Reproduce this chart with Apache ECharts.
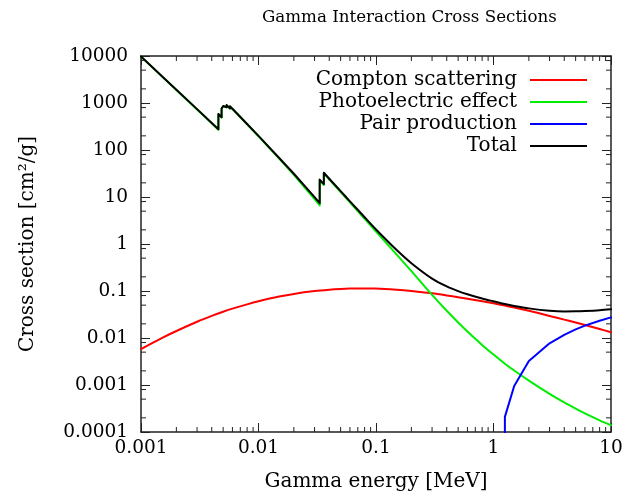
<!DOCTYPE html>
<html>
<head>
<meta charset="utf-8">
<title>Gamma Interaction Cross Sections</title>
<script src="https://cdn.jsdelivr.net/npm/echarts@6/dist/echarts.min.js"></script>
<style>
  html, body { margin: 0; padding: 0; background: #fff; }
  #chart { width: 625px; height: 495px; }
</style>
</head>
<body>
<div id="chart"></div>
<script>
// Energy grid (MeV) for the smooth Compton curve
const comptonEnergy = [0.001, 0.0015, 0.002, 0.003, 0.004, 0.005, 0.006, 0.008, 0.01, 0.015, 0.02, 0.03,
  0.04, 0.05, 0.06, 0.08, 0.1, 0.15, 0.2, 0.3, 0.4, 0.5, 0.6, 0.8, 1, 1.25, 1.5, 2, 3, 4, 5, 6, 8, 10];
// Compton (incoherent) scattering cross section, cm^2/g
const comptonValue = [0.0058, 0.00993, 0.0141, 0.0222, 0.0296, 0.0362, 0.0421, 0.0520, 0.0603, 0.0760, 0.0868, 0.0997,
  0.1066, 0.1105, 0.1125, 0.1136, 0.1129, 0.1063, 0.0998, 0.0891, 0.0805, 0.0738, 0.0685, 0.0605, 0.0547, 0.0489,
  0.0446, 0.0379, 0.0295, 0.0246, 0.0213, 0.0189, 0.0155, 0.0133];

// Energy grid (MeV) with absorption edges repeated (below / above the edge)
const edgeEnergy = [0.001, 0.0015, 0.002, 0.003, 0.004,
  0.004557, 0.004557, 0.004852, 0.004852, 0.005012, 0.005012, 0.005188, 0.005188,
  0.005359, 0.005359, 0.005714, 0.005714, 0.006, 0.008, 0.01, 0.015, 0.02, 0.03,
  0.03317, 0.03317, 0.03598, 0.03598, 0.04, 0.05, 0.06, 0.08, 0.1, 0.15, 0.2, 0.3,
  0.4, 0.5, 0.6, 0.8, 1, 1.25, 1.5, 2, 3, 4, 5, 6, 8, 10];
// Photoelectric absorption, cm^2/g
const photoValue = [9700, 3730, 1900, 728, 369,
  270, 578, 492, 755, 696, 855, 782, 875,
  806, 895, 760, 845, 745, 352, 196, 65.5, 29.6, 9.0,
  6.6, 22.6, 18.0, 32.0, 23.8, 12.8, 7.70, 3.44, 1.84, 0.593, 0.265, 0.0828,
  0.0379, 0.0214, 0.01374, 0.00711, 0.00444, 0.00284, 0.00203, 0.00124, 0.000648, 0.000426,
  0.000315, 0.000249, 0.000177, 0.000139];
// Total attenuation, cm^2/g
const totalValue = [9760, 3760, 1920, 740, 377,
  277, 585, 499, 762, 703, 862, 789, 882,
  813, 902, 767, 852, 752, 358, 200, 67.6, 31.2, 9.9,
  7.4, 23.5, 18.8, 32.8, 24.46, 13.3, 8.09, 3.71, 2.04, 0.744, 0.391, 0.184,
  0.1254, 0.0997, 0.0852, 0.0694, 0.0603, 0.0527, 0.0481, 0.0427, 0.0380, 0.0367,
  0.0369, 0.0375, 0.0390, 0.0409];

// Pair production (threshold region starts below the axis)
const pairEnergy = [1.25, 1.25, 1.5, 2, 3, 4, 5, 6, 8, 10];
const pairValue = [0.00001, 0.00021, 0.00095, 0.00325, 0.0077, 0.0117, 0.0153, 0.0183, 0.0233, 0.0275];

const seriesNames = ['Compton scattering', 'Photoelectric effect', 'Pair production', 'Total'];
const seriesColors = ['#ff0000', '#00ee00', '#0000ff', '#000000'];

const xTickLabels = ['0.001', '0.01', '0.1', '1', '10'];
const yTickLabels = ['0.0001', '0.001', '0.01', '0.1', '1', '10', '100', '1000', '10000'];
// Minor tick multipliers inside each decade
const xMinorSteps = [2, 3, 4, 5, 6, 7, 8, 9];
const yMinorSteps = [2, 5, 8];

const X_MIN = 0.001, X_MAX = 10, Y_MIN = 0.0001, Y_MAX = 10000;
// Above this energy the edge-free curves are drawn with smoothing
const SMOOTH_FROM = 0.04;
const FONT = 'DejaVu Serif';
const FRAME = '#222';

function pairs(xs, ys) { return xs.map((x, i) => [x, ys[i]]); }
function below(xs, ys, e) { return pairs(xs, ys).filter(p => p[0] <= e); }
function above(xs, ys, e) { return pairs(xs, ys).filter(p => p[0] >= e); }

function minorTicks(minExp, maxExp, steps) {
  const out = [];
  for (let e = minExp; e < maxExp; e++) {
    for (const m of steps) out.push(+(m * Math.pow(10, e)).toPrecision(3));
  }
  return out;
}
const xMinor = minorTicks(-3, 1, xMinorSteps);
const yMinor = minorTicks(-4, 4, yMinorSteps);

function tickLabel(labels, minExp) {
  return v => labels[Math.round(Math.log10(v)) - minExp] || '';
}

const chart = echarts.init(document.getElementById('chart'), null, { renderer: 'canvas' });

const lineSeries = (idx, data, smooth) => ({
  name: seriesNames[idx], type: 'line', data, showSymbol: false, symbol: 'none', clip: true,
  smooth: smooth || false,
  lineStyle: { color: seriesColors[idx], width: 2, cap: 'round', join: 'round' },
  itemStyle: { color: seriesColors[idx] },
  emphasis: { disabled: true }, animation: false, z: 3 + idx
});

const baseAxis = {
  type: 'log', logBase: 10,
  axisLine: { show: true, onZero: false, lineStyle: { color: FRAME, width: 1.5 } },
  axisTick: { show: true, inside: true, length: 9, lineStyle: { color: FRAME, width: 1 } },
  minorTick: { show: false },
  splitLine: { show: false },
  minorSplitLine: { show: false }
};

chart.setOption({
  backgroundColor: '#fff',
  animation: false,
  title: {
    text: 'Gamma Interaction Cross Sections',
    left: 262, top: 9, padding: 0,
    textStyle: { fontFamily: FONT, fontSize: 16.7, fontWeight: 'normal', color: '#000' }
  },
  legend: {
    orient: 'vertical', align: 'right', right: 38, top: 69, padding: 0,
    itemWidth: 57, itemHeight: 2, itemGap: 0,
    selectedMode: false,
    data: seriesNames.map(n => ({ name: n, icon: 'rect' })),
    textStyle: { fontFamily: FONT, fontSize: 20, color: '#000', lineHeight: 22, padding: [0, 8, 0, 0] }
  },
  grid: { left: 141, right: 14, top: 56, bottom: 63, containLabel: false, outerBoundsMode: 'none' },
  xAxis: [
    Object.assign({}, baseAxis, {
      position: 'bottom', min: X_MIN, max: X_MAX, splitNumber: 4,
      axisLabel: { show: true, margin: 7, fontFamily: FONT, fontSize: 18.5, color: '#000',
        formatter: tickLabel(xTickLabels, -3), showMinLabel: true, showMaxLabel: true },
      name: 'Gamma energy [MeV]', nameLocation: 'middle', nameGap: 40,
      nameTextStyle: { fontFamily: FONT, fontSize: 20, color: '#000' }
    }),
    Object.assign({}, baseAxis, {
      position: 'top', min: X_MIN, max: X_MAX, splitNumber: 4,
      axisLabel: { show: false }
    })
  ],
  yAxis: [
    Object.assign({}, baseAxis, {
      position: 'left', min: Y_MIN, max: Y_MAX, splitNumber: 8,
      axisLabel: { show: true, margin: 13, fontFamily: FONT, fontSize: 18.5, color: '#000',
        formatter: tickLabel(yTickLabels, -4), showMinLabel: true, showMaxLabel: true },
      name: 'Cross section [cm²/g]', nameLocation: 'middle', nameGap: 103, nameRotate: 90,
      nameTextStyle: { fontFamily: FONT, fontSize: 20, color: '#000' }
    }),
    Object.assign({}, baseAxis, {
      position: 'right', min: Y_MIN, max: Y_MAX, splitNumber: 8,
      axisLabel: { show: false }
    })
  ],
  series: [
    lineSeries(0, pairs(comptonEnergy, comptonValue), 0.3),
    lineSeries(1, below(edgeEnergy, photoValue, SMOOTH_FROM)),
    lineSeries(1, above(edgeEnergy, photoValue, SMOOTH_FROM), 0.3),
    lineSeries(2, pairs(pairEnergy, pairValue)),
    lineSeries(3, below(edgeEnergy, totalValue, SMOOTH_FROM)),
    lineSeries(3, above(edgeEnergy, totalValue, SMOOTH_FROM), 0.3),
    {
      // minor ticks on the bottom and top frame
      type: 'custom', silent: true, z: 2, animation: false,
      data: xMinor.map(v => [v, Y_MIN]),
      renderItem: (params, api) => {
        const b = api.coord([api.value(0), Y_MIN]);
        const t = api.coord([api.value(0), Y_MAX]);
        const st = { stroke: FRAME, lineWidth: 1 };
        return { type: 'group', children: [
          { type: 'line', shape: { x1: b[0], y1: b[1], x2: b[0], y2: b[1] - 5 }, style: st },
          { type: 'line', shape: { x1: t[0], y1: t[1], x2: t[0], y2: t[1] + 5 }, style: st }
        ] };
      }
    },
    {
      // minor ticks on the left and right frame
      type: 'custom', silent: true, z: 2, animation: false,
      data: yMinor.map(v => [X_MIN, v]),
      renderItem: (params, api) => {
        const l = api.coord([X_MIN, api.value(1)]);
        const r = api.coord([X_MAX, api.value(1)]);
        const st = { stroke: FRAME, lineWidth: 1 };
        return { type: 'group', children: [
          { type: 'line', shape: { x1: l[0], y1: l[1], x2: l[0] + 5, y2: l[1] }, style: st },
          { type: 'line', shape: { x1: r[0], y1: r[1], x2: r[0] - 5, y2: r[1] }, style: st }
        ] };
      }
    }
  ]
});
</script>
</body>
</html>
